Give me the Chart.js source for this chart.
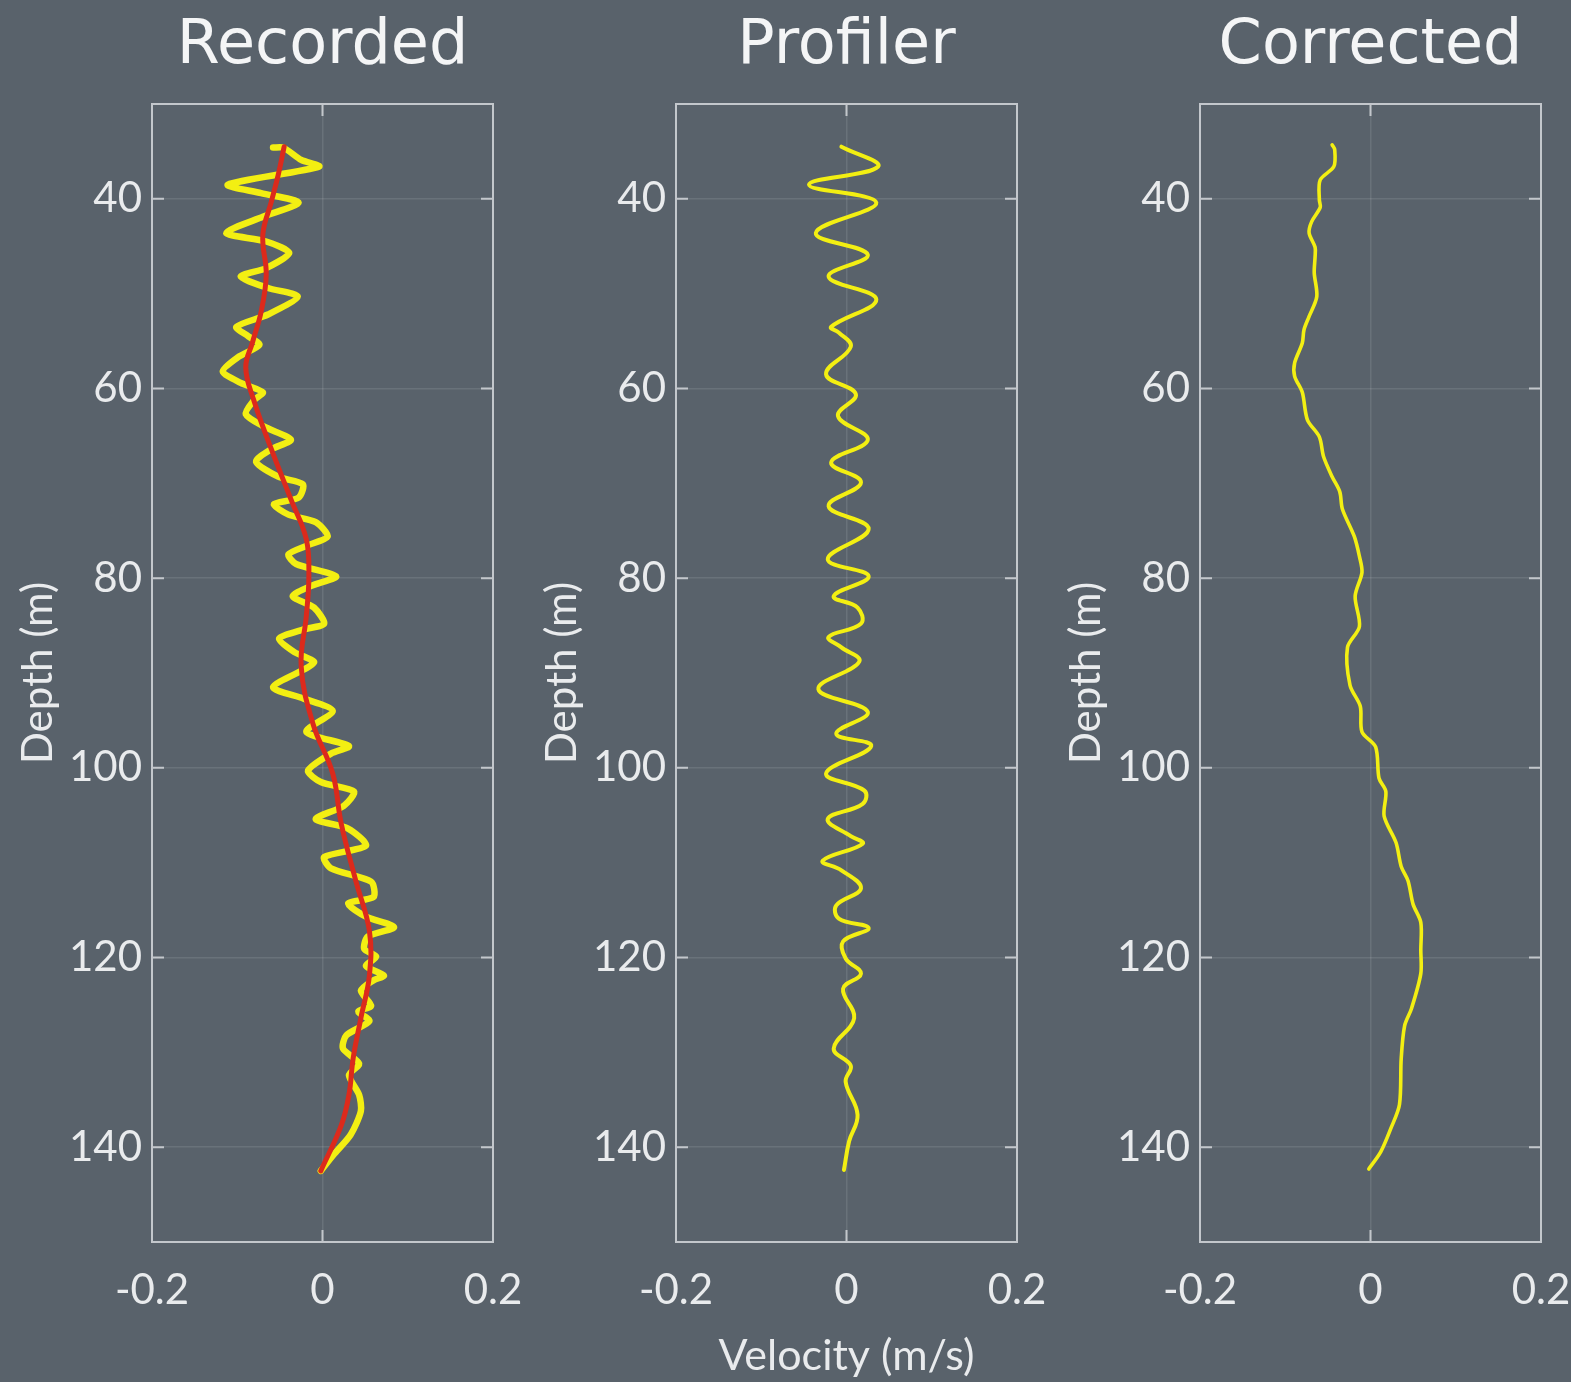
<!DOCTYPE html>
<html>
<head>
<meta charset="utf-8">
<title>Velocity profiles</title>
<script src="https://cdn.jsdelivr.net/npm/chart.js@4.4.1/dist/chart.umd.min.js"></script>
<style>
  html, body { margin: 0; padding: 0; width: 1571px; height: 1382px; overflow: hidden; background: #59626b; }
  canvas { position: absolute; top: 0; }
</style>
</head>
<body>
<canvas id="panel0" width="525" height="1382" style="left:0px"></canvas>
<canvas id="panel1" width="525" height="1382" style="left:524px"></canvas>
<canvas id="panel2" width="525" height="1382" style="left:1048px"></canvas>
<script>
// ---- labels and ticks ----
const panelTitles = ['Recorded', 'Profiler', 'Corrected'];
const depthTicks = [40, 60, 80, 100, 120, 140];
const velocityTicks = [-0.2, 0, 0.2];
const velocityTickLabels = ['-0.2', '0', '0.2'];
const depthAxisTitle = 'Depth (m)';
const velocityAxisTitle = 'Velocity (m/s)';

// ---- recorded velocity (m/s) against depth (m) ----
const recordedDepth = [
  34.6, 34.6, 35.9, 36.6, 38.5, 39.4, 40.4, 41.9, 43.6, 44.5, 45.7, 47.3, 48.2, 49.4, 50.3,
  52.2, 53.5, 54.5, 55.4, 56.7, 58.2, 59.4, 60.4, 61.2, 62.7, 64.0, 65.4, 66.4, 67.7, 69.3,
  70.1, 71.5, 72.2, 73.3, 74.1, 75.6, 76.6, 77.5, 78.5, 79.8, 80.8, 81.9, 83.1, 84.8, 85.4,
  86.4, 87.8, 88.8, 89.4, 91.5, 92.7, 94.0, 96.2, 97.7, 98.5, 100.3, 101.5, 102.5, 104.0, 105.4,
  106.4, 108.2, 109.4, 110.6, 112.0, 113.6, 114.3, 115.7, 116.8, 117.8, 119.1, 119.9, 120.9, 121.9, 122.4,
  123.5, 125.1, 125.7, 126.7, 128.2, 129.6, 131.2, 132.4, 134.5, 136.2, 138.7, 140.8, 142.5
];
const recordedVelocity = [
  -0.058, -0.046, -0.025, -0.004, -0.111, -0.072, -0.028, -0.070, -0.113, -0.066, -0.039, -0.066, -0.096, -0.064, -0.029,
  -0.064, -0.101, -0.087, -0.074, -0.099, -0.117, -0.096, -0.070, -0.080, -0.090, -0.069, -0.037, -0.060, -0.078, -0.052,
  -0.023, -0.028, -0.057, -0.040, -0.008, 0.006, -0.019, -0.040, -0.031, 0.016, -0.013, -0.035, -0.010, 0.002, -0.022,
  -0.051, -0.033, -0.010, -0.017, -0.058, -0.022, 0.012, -0.019, 0.031, 0.010, -0.017, -0.002, 0.037, 0.025, -0.008,
  0.030, 0.051, 0.002, 0.010, 0.057, 0.060, 0.030, 0.051, 0.084, 0.053, 0.049, 0.063, 0.051, 0.072, 0.060,
  0.045, 0.057, 0.042, 0.055, 0.028, 0.024, 0.043, 0.031, 0.043, 0.045, 0.033, 0.013, -0.002
];

// ---- smoothed trend of the recorded profile ----
const trendDepth = [
  34.5, 37.5, 40.3, 43.8, 48.0, 51.9, 55.1, 57.8, 61.4, 66.4, 71.7, 75.9, 79.8,
  84.0, 89.3, 95.4, 100.6, 105.9, 111.9, 117.2, 121.9, 126.4, 130.6, 134.5, 137.7, 142.5
];
const trendVelocity = [
  -0.045, -0.052, -0.060, -0.070, -0.066, -0.072, -0.082, -0.090, -0.080, -0.060, -0.037, -0.019, -0.016,
  -0.019, -0.025, -0.011, 0.012, 0.022, 0.039, 0.055, 0.055, 0.045, 0.036, 0.031, 0.022, -0.002
];

// ---- profiler motion ----
const profilerDepth = [
  34.5, 36.6, 38.5, 40.4, 43.6, 45.9, 48.2, 50.6, 53.5, 54.1, 55.6, 58.5, 60.6, 62.9, 65.4,
  67.8, 69.9, 72.4, 74.8, 78.0, 79.8, 81.9, 83.1, 84.8, 86.2, 87.3, 88.8, 91.7, 94.1, 96.4,
  97.7, 100.6, 102.4, 103.8, 105.4, 107.2, 108.0, 109.8, 110.8, 112.7, 114.5, 115.9, 116.9, 118.3, 120.1,
  121.7, 123.3, 126.4, 129.6, 131.4, 133.1, 136.6, 139.4, 142.4
];
const profilerVelocity = [
  -0.006, 0.037, -0.044, 0.035, -0.036, 0.025, -0.021, 0.035, -0.018, -0.009, 0.005, -0.024, 0.011, -0.010, 0.025,
  -0.018, 0.017, -0.021, 0.026, -0.022, 0.026, -0.015, 0.013, 0.017, -0.021, -0.006, 0.015, -0.033, 0.025, -0.012,
  0.029, -0.024, 0.021, 0.019, -0.022, 0.005, 0.019, -0.028, -0.006, 0.017, -0.012, -0.009, 0.026, -0.004, -0.001,
  0.017, -0.004, 0.009, -0.015, 0.005, -0.001, 0.013, 0.003, -0.003
];

// ---- corrected velocity ----
const correctedDepth = [
  34.3, 34.8, 36.6, 38.0, 40.1, 40.9, 42.4, 43.6, 45.1, 46.1, 47.8, 50.3, 52.4, 53.8, 55.2,
  57.3, 58.7, 60.4, 63.3, 65.1, 67.2, 69.3, 70.9, 72.7, 75.6, 77.7, 79.4, 81.9, 85.1, 87.3,
  91.3, 93.5, 96.2, 97.8, 101.1, 102.5, 105.1, 107.9, 110.4, 111.9, 114.4, 116.3, 119.2, 121.7, 125.4,
  127.2, 130.7, 135.5, 138.0, 140.5, 142.3
];
const correctedVelocity = [
  -0.045, -0.042, -0.043, -0.059, -0.060, -0.059, -0.069, -0.072, -0.065, -0.065, -0.066, -0.063, -0.072, -0.078, -0.080,
  -0.089, -0.089, -0.080, -0.074, -0.060, -0.055, -0.045, -0.036, -0.033, -0.019, -0.013, -0.010, -0.018, -0.013, -0.027,
  -0.024, -0.012, -0.010, 0.006, 0.010, 0.018, 0.016, 0.030, 0.036, 0.044, 0.050, 0.059, 0.059, 0.059, 0.048,
  0.040, 0.036, 0.034, 0.024, 0.012, -0.002
];

// ---- styling ----
const YELLOW = '#f3ef12';
const RED = '#dc2a1c';
const TEXT = '#e9ebed';
const FRAME = '#c3c7cc';
const GRID = 'rgba(255,255,255,0.10)';
const LABEL_FONT = "Lato, 'Open Sans', sans-serif";
const TITLE_FONT = "'DejaVu Sans', Verdana, sans-serif";

const toPoints = (depth, vel) => depth.map((d, i) => ({ x: vel[i], y: d }));

function lineSet(depth, vel, color, width, tension) {
  return {
    data: toPoints(depth, vel),
    showLine: true,
    borderColor: color,
    backgroundColor: color,
    borderWidth: width,
    pointRadius: 0,
    tension: tension,
    borderJoinStyle: 'round',
    borderCapStyle: 'round',
    fill: false
  };
}

// frame around the plot area with inward tick marks on all four sides
const framePlugin = {
  id: 'frame',
  beforeDatasetsDraw(chart) {
    const { ctx, chartArea: a, scales: { x, y } } = chart;
    const len = 12;
    ctx.save();
    ctx.strokeStyle = FRAME;
    ctx.lineWidth = 2;
    ctx.strokeRect(a.left, a.top, a.right - a.left, a.bottom - a.top);
    ctx.beginPath();
    depthTicks.forEach(d => {
      const py = y.getPixelForValue(d);
      ctx.moveTo(a.left, py); ctx.lineTo(a.left + len, py);
      ctx.moveTo(a.right, py); ctx.lineTo(a.right - len, py);
    });
    velocityTicks.forEach(v => {
      const px = x.getPixelForValue(v);
      ctx.moveTo(px, a.top); ctx.lineTo(px, a.top + len);
      ctx.moveTo(px, a.bottom); ctx.lineTo(px, a.bottom - len);
    });
    ctx.stroke();
    ctx.restore();
  }
};

function makeChart(index, datasets) {
  const canvas = document.getElementById('panel' + index);
  return new Chart(canvas, {
    type: 'scatter',
    data: { datasets },
    plugins: [framePlugin],
    options: {
      responsive: false,
      animation: false,
      events: [],
      layout: { padding: { left: 0, top: 0, right: 32, bottom: 0 } },
      plugins: {
        legend: { display: false },
        tooltip: { enabled: false },
        title: {
          display: true,
          text: panelTitles[index],
          fullSize: false,
          color: '#f4f5f6',
          font: { family: TITLE_FONT, size: 62, weight: 'normal', lineHeight: 1.2 },
          padding: { top: 10, bottom: 19.6 }
        }
      },
      scales: {
        x: {
          type: 'linear',
          min: -0.2,
          max: 0.2,
          afterBuildTicks: s => { s.ticks = velocityTicks.map(v => ({ value: v })); },
          afterFit: s => { s.height = 140; s.paddingLeft = 0; s.paddingRight = 0; },
          grid: { color: GRID, lineWidth: 1.5, drawTicks: false },
          border: { display: false },
          ticks: {
            color: TEXT,
            padding: 23,
            maxRotation: 0,
            autoSkip: false,
            font: { family: LABEL_FONT, size: 42 },
            callback: v => velocityTickLabels[velocityTicks.indexOf(v)]
          },
          title: {
            display: index === 1,
            text: velocityAxisTitle,
            color: TEXT,
            font: { family: LABEL_FONT, size: 43 },
            padding: { top: 0, bottom: 0 }
          }
        },
        y: {
          type: 'linear',
          reverse: true,
          min: 30,
          max: 150,
          afterBuildTicks: s => { s.ticks = depthTicks.map(v => ({ value: v })); },
          afterFit: s => { s.width = 152; s.paddingTop = 0; s.paddingBottom = 0; },
          grid: { color: GRID, lineWidth: 1.5, drawTicks: false },
          border: { display: false },
          ticks: {
            color: TEXT,
            padding: 10,
            autoSkip: false,
            font: { family: LABEL_FONT, size: 42 },
            callback: v => String(v)
          },
          title: {
            display: true,
            text: depthAxisTitle,
            color: TEXT,
            font: { family: LABEL_FONT, size: 42 },
            padding: { top: 13, bottom: 0 }
          }
        }
      }
    }
  });
}

function draw() {
  makeChart(0, [
    lineSet(trendDepth, trendVelocity, RED, 5, 0.4),
    lineSet(recordedDepth, recordedVelocity, YELLOW, 6.5, 0.25)
  ]);
  makeChart(1, [lineSet(profilerDepth, profilerVelocity, YELLOW, 4, 0.4)]);
  makeChart(2, [lineSet(correctedDepth, correctedVelocity, YELLOW, 3.6, 0.3)]);
}

const fontsReady = document.fonts
  ? Promise.all([
      document.fonts.load("42px Lato"),
      document.fonts.load("62px 'DejaVu Sans'")
    ]).catch(() => null)
  : Promise.resolve();
fontsReady.then(draw);
</script>
</body>
</html>
